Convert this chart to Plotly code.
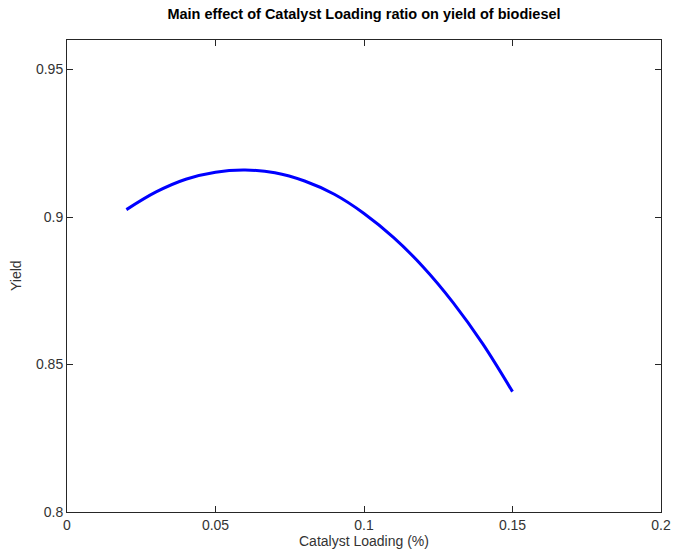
import plotly.graph_objects as go

catalyst_loading = [0.02, 0.03, 0.04, 0.05, 0.06, 0.07, 0.08, 0.09, 0.10, 0.11, 0.12, 0.13, 0.14, 0.15]
yield_values = [0.9025, 0.9085, 0.9128, 0.9152, 0.9159, 0.9150, 0.9122, 0.9077, 0.9012, 0.8930, 0.8830, 0.8710, 0.8570, 0.8408]

x_ticks = [0, 0.05, 0.1, 0.15, 0.2]
x_tick_labels = ["0", "0.05", "0.1", "0.15", "0.2"]
y_ticks = [0.8, 0.85, 0.9, 0.95]
y_tick_labels = ["0.8", "0.85", "0.9", "0.95"]

title_text = "Main effect of Catalyst Loading ratio on yield of biodiesel"
x_label = "Catalyst Loading (%)"
y_label = "Yield"

FONT = "Liberation Sans, Arial, sans-serif"
AX = "#262626"

fig = go.Figure()
fig.add_trace(go.Scatter(
    x=catalyst_loading, y=yield_values, mode="lines",
    line=dict(color="#0000ff", width=3, shape="spline"),
    showlegend=False, hoverinfo="skip",
))

axis_common = dict(
    showgrid=False, zeroline=False, showline=True, linecolor=AX, linewidth=1,
    mirror="ticks", ticks="inside", ticklen=6, tickwidth=1, tickcolor=AX,
    tickfont=dict(family=FONT, size=14, color="#333333"), automargin=False,
)

fig.update_layout(
    width=678, height=552,
    margin=dict(l=67, r=17, t=40, b=40),
    paper_bgcolor="white", plot_bgcolor="white",
    font=dict(family=FONT, color=AX),
    xaxis=dict(range=[0, 0.2], tickvals=x_ticks, ticktext=x_tick_labels, **axis_common),
    yaxis=dict(range=[0.8, 0.96], tickvals=y_ticks, ticktext=y_tick_labels, **axis_common),
    title=dict(text="<b>" + title_text + "</b>", x=0.5, xref="paper", xanchor="center",
               y=1 - 14 / 552, yref="container", yanchor="middle",
               font=dict(family=FONT, size=14.5, color="#000000")),
    annotations=[
        dict(text=x_label, xref="paper", yref="paper", x=0.5, y=0, xanchor="center",
             yanchor="middle", yshift=-29, showarrow=False,
             font=dict(family=FONT, size=14, color="#333333")),
        dict(text=y_label, xref="paper", yref="paper", x=0, y=0.5, xanchor="center",
             yanchor="middle", xshift=-51, textangle=-90, showarrow=False,
             font=dict(family=FONT, size=14, color="#333333")),
    ],
)

fig.write_html("out.html")
